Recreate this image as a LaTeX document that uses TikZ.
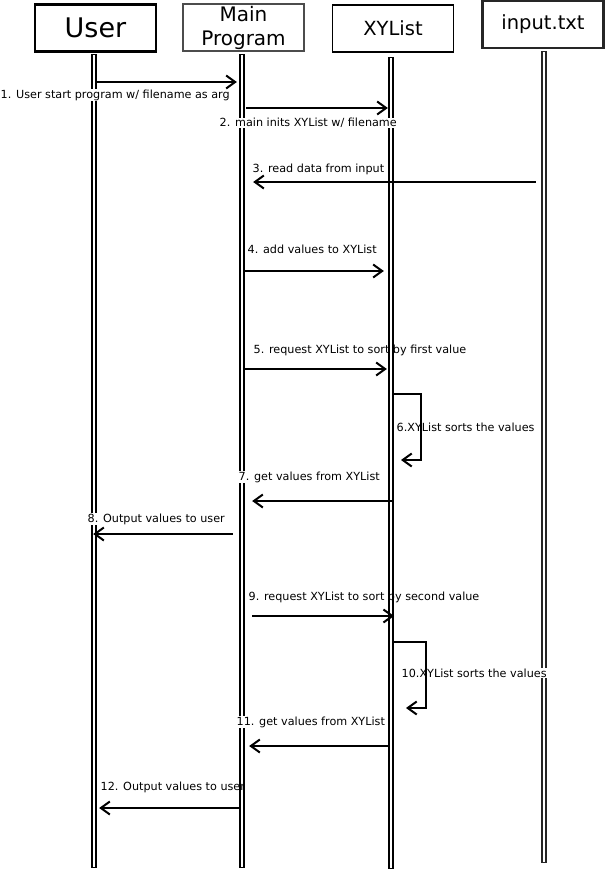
\documentclass[tikz,border=0pt]{standalone}
\usepackage{fontspec}
\setmainfont{DejaVu Sans}
\usetikzlibrary{arrows.meta}

\begin{document}
\begin{tikzpicture}[x=1pt, y=-1pt, >={Straight Barb[length=9pt,width=13pt]}]
			\tikzstyle{actor} = [draw, line width=2.2pt, minimum width=121pt, minimum height=47pt, inner sep=0pt, align=center]
			\tikzstyle{life} = [draw, line width=1.8pt, fill=white, minimum width=4.5pt, inner sep=0pt, anchor=north]
			\tikzstyle{msg} = [->, line width=2pt]
			\tikzstyle{note} = [inner sep=0.5pt, anchor=west, font=\fontsize{11.2}{13}\selectfont]
			\tikzstyle{cover} = [note, fill=white]
			\useasboundingbox (0,0) rectangle (605,870);

			% lifelines
			\node[life, minimum height=813pt] (userl) at (94,53.5) {};
			\node[life, minimum height=813pt] (mainl) at (242,53.5) {};
			\node[life, minimum height=811pt] (xyl) at (391,56.5) {};
			\node[life, minimum height=811pt, draw=black!85] (inl) at (544,50.5) {};

			% participants
			\node[actor, font=\fontsize{27}{29}\selectfont] (user) at (95.5,28) {User};
			\node[actor, line width=1.4pt, draw=black!70, font=\fontsize{20}{24}\selectfont] (main) at (243.5,27.5) {Main\\Program};
			\node[actor, line width=1.8pt, font=\fontsize{19.5}{21}\selectfont] (xy) at (393,28.5) {XYList};
			\node[actor, draw=black!85, font=\fontsize{19.5}{21}\selectfont] (input) at (543,24.5) {input.txt};

			% message levels
			\coordinate (l1) at (0,82);
			\coordinate (l2) at (0,108);
			\coordinate (l3) at (0,182);
			\coordinate (l4) at (0,271);
			\coordinate (l5) at (0,369);
			\coordinate (l7) at (0,501);
			\coordinate (l8) at (0,534);
			\coordinate (l9) at (0,616);
			\coordinate (l11) at (0,746);
			\coordinate (l12) at (0,808);

			% labels
			\node[cover] (t1) at (0,95) {1. User start program w/ filename as arg};
			\node[cover] (t2) at (219,123) {2. main inits XYList w/ filename};
			\node[cover] (t3) at (252,169) {3. read data from input};
			\node[cover] (t4) at (247,249) {4. add values to XYList};
			\node[note] (t5) at (253,350) {5. request XYList to sort by first value};
			\node[cover] (t6) at (396,427) {6.XYList sorts the values};
			\node[cover] (t7) at (238,477) {7. get values from XYList};
			\node[cover] (t8) at (87,519) {8. Output values to user};
			\node[note] (t9) at (248,597) {9. request XYList to sort by second value};
			\node[cover] (t10) at (401,673) {10.XYList sorts the values};
			\node[cover] (t11) at (236,722) {11. get values from XYList};
			\node[note] (t12) at (100,787) {12. Output values to user};

			% messages
			\draw[msg, shorten >=2pt] (userl.east |- l1) -- (mainl.west |- l1);
			\draw[msg, shorten <=1pt] (mainl.east |- l2) -- (xyl.west |- l2);
			\draw[msg, shorten <=5pt, shorten >=8pt] (inl.west |- l3) -- (mainl.east |- l3);
			\draw[msg, shorten <=-2pt, shorten >=4pt] (mainl.east |- l4) -- (xyl.west |- l4);
			\draw[msg, shorten >=1pt] (mainl.east |- l5) -- (xyl.west |- l5);

			\coordinate (s6a) at (421,394);
			\coordinate (s6b) at (421,460);
			\coordinate (s6c) at (401,460);
			\draw[msg] (xyl.east |- s6a) -- (s6a) -- (s6b) -- (s6c);

			\draw[msg, shorten <=1pt, shorten >=7pt] (xyl.east |- l7) -- (mainl.east |- l7);
			\draw[msg, shorten <=6pt, shorten >=-4pt] (mainl.west |- l8) -- (userl.east |- l8);
			\draw[msg, shorten <=7pt] (mainl.east |- l9) -- (xyl.east |- l9);

			\coordinate (s10a) at (426,642);
			\coordinate (s10b) at (426,708);
			\coordinate (s10c) at (406,708);
			\draw[msg] (xyl.east |- s10a) -- (s10a) -- (s10b) -- (s10c);

			\draw[msg, shorten >=4pt] (xyl.west |- l11) -- (mainl.east |- l11);
			\draw[msg, shorten >=2pt] (mainl.west |- l12) -- (userl.east |- l12);
\end{tikzpicture}
\end{document}
